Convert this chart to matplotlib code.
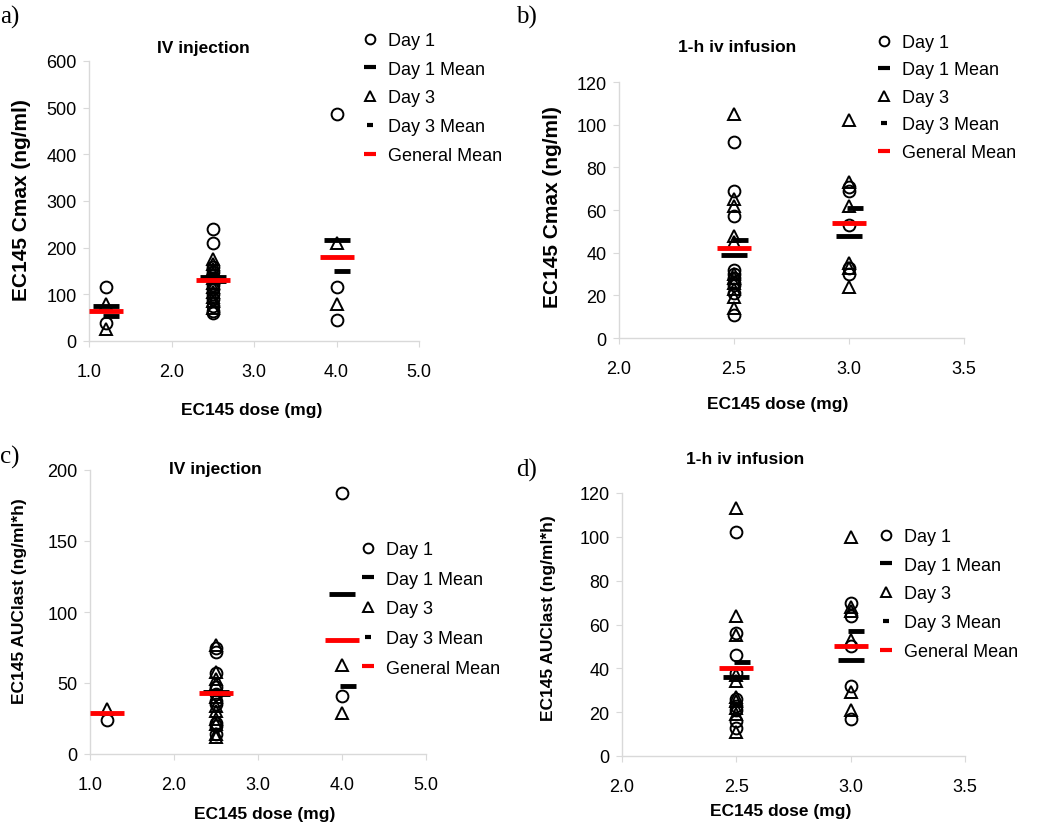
import matplotlib
matplotlib.use("Agg")
import matplotlib.pyplot as plt
import matplotlib.transforms as mtransforms
from matplotlib.lines import Line2D

plt.rcParams['font.family'] = ['Liberation Sans', 'DejaVu Sans']

W, H = 1050, 829

# ---- data (dose -> values) ----
# a) Cmax, IV injection
cmax_iv_day1 = {1.2: [115, 39],
                2.5: [241, 209, 158, 148, 135, 120, 112, 100, 90, 75, 64, 60],
                4.0: [486, 115, 45]}
cmax_iv_day3 = {1.2: [80, 25],
                2.5: [175, 165, 155, 145, 135, 125, 115, 105, 95, 85, 70],
                4.0: [210, 80]}
cmax_iv_day1_mean = {1.2: 76, 2.5: 137, 4.0: 216}
cmax_iv_day3_mean = {1.2: 53, 2.5: 128, 4.0: 150}
cmax_iv_mean = {1.2: 65, 2.5: 131, 4.0: 181}

# b) Cmax, 1-h iv infusion
cmax_inf_day1 = {2.5: [92, 69, 57, 32, 30, 28, 26, 25, 21, 11],
                 3.0: [71, 69, 53, 33, 30]}
cmax_inf_day3 = {2.5: [105, 65, 62, 48, 45, 30, 28, 26, 23, 19, 14],
                 3.0: [102, 73, 62, 35, 33, 24]}
cmax_inf_day1_mean = {2.5: 39, 3.0: 48}
cmax_inf_day3_mean = {2.5: 46, 3.0: 61}
cmax_inf_mean = {2.5: 42, 3.0: 54}

# c) AUClast, IV injection
auc_iv_day1 = {1.2: [24],
               2.5: [75, 72, 57, 47, 42, 37, 35, 22, 20, 14],
               4.0: [184, 41]}
auc_iv_day3 = {1.2: [32],
               2.5: [77, 58, 53, 49, 40, 34, 30, 25, 21, 14, 12],
               4.0: [63, 29]}
auc_iv_day1_mean = {2.5: 44, 4.0: 113}
auc_iv_day3_mean = {2.5: 42, 4.0: 48}
auc_iv_mean = {1.2: 29, 2.5: 43, 4.0: 80}

# d) AUClast, 1-h iv infusion
auc_inf_day1 = {2.5: [102, 56, 46, 38, 26, 23, 21, 16, 13],
                3.0: [70, 64, 50, 32, 17]}
auc_inf_day3 = {2.5: [113, 64, 55, 37, 34, 27, 25, 22, 19, 11],
                3.0: [100, 68, 66, 53, 29, 21]}
auc_inf_day1_mean = {2.5: 36, 3.0: 44}
auc_inf_day3_mean = {2.5: 43, 3.0: 57}
auc_inf_mean = {2.5: 40, 3.0: 50}

GRAY = '#d9d9d9'


def px_rect(left, top, right, bottom):
    return [left / W, 1 - bottom / H, (right - left) / W, (bottom - top) / H]


def flat(d):
    xs, ys = [], []
    for k, v in d.items():
        xs += [k] * len(v)
        ys += v
    return xs, ys


def panel(rect, day1, day3, m1, m3, gm, xlim, xticks, ylim, yticks,
          ylabel, ylab_xy, ylab_size, title, title_xy, letter, letter_xy,
          leg_xy, leg_space, xlab_xy):
    ax = fig.add_axes(px_rect(*rect))
    x, y = flat(day1)
    ax.plot(x, y, 'o', ms=8.5, mfc='none', mec='black', mew=1.4, zorder=3)
    ax.plot(list(m1.keys()), list(m1.values()), '_', ms=19, mew=3.5,
            color='black', zorder=4)
    x, y = flat(day3)
    ax.plot(x, y, '^', ms=9, mfc='none', mec='black', mew=1.4, zorder=3)
    # day 3 mean dash sits a little to the right in the original
    shift = ax.transData + mtransforms.ScaledTranslation(4 / 72, 0, fig.dpi_scale_trans)
    ax.plot(list(m3.keys()), list(m3.values()), '_', ms=12, mew=3.5,
            color='black', zorder=4, transform=shift)
    ax.plot(list(gm.keys()), list(gm.values()), '_', ms=25, mew=3.5,
            color='#ff0000', zorder=5)

    ax.set_xlim(*xlim)
    ax.set_ylim(*ylim)
    ax.set_xticks(xticks)
    ax.set_xticklabels([f'{t:.1f}' for t in xticks])
    ax.set_yticks(yticks)
    for s in ['top', 'right']:
        ax.spines[s].set_visible(False)
    for s in ['left', 'bottom']:
        ax.spines[s].set_color(GRAY)
        ax.spines[s].set_linewidth(1.0)
    ax.tick_params(axis='both', colors=GRAY, labelcolor='black', labelsize=13,
                   length=4)
    ax.tick_params(axis='x', pad=12)
    ax.tick_params(axis='y', pad=5)

    fig.text(xlab_xy[0] / W, 1 - xlab_xy[1] / H, 'EC145 dose (mg)', ha='center',
             va='center', fontsize=12.5, fontweight='bold')
    fig.text(ylab_xy[0] / W, 1 - ylab_xy[1] / H, ylabel, ha='center',
             va='center', rotation=90, fontsize=ylab_size, fontweight='bold')
    fig.text(title_xy[0] / W, 1 - title_xy[1] / H, title, ha='center',
             va='center', fontsize=12.5, fontweight='bold')
    fig.text(letter_xy[0] / W, 1 - letter_xy[1] / H, letter, ha='left',
             va='center', fontsize=18, family='Liberation Serif')

    handles = [
        Line2D([], [], ls='none', marker='o', ms=7, mfc='none', mec='black', mew=1.4),
        Line2D([], [], ls='none', marker='_', ms=9, mew=3, color='black'),
        Line2D([], [], ls='none', marker='^', ms=7.5, mfc='none', mec='black', mew=1.4),
        Line2D([], [], ls='none', marker='_', ms=5, mew=3, color='black'),
        Line2D([], [], ls='none', marker='_', ms=9, mew=3, color='#ff0000'),
    ]
    labels = ['Day 1', 'Day 1 Mean', 'Day 3', 'Day 3 Mean', 'General Mean']
    fig.legend(handles, labels, loc='upper left',
               bbox_to_anchor=(leg_xy[0] / W, 1 - leg_xy[1] / H),
               frameon=False, fontsize=13, borderpad=0, borderaxespad=0,
               handlelength=0.9, handletextpad=0.55, labelspacing=leg_space)
    return ax


fig = plt.figure(figsize=(W / 100, H / 100), dpi=100)

panel((89, 62, 419, 342), cmax_iv_day1, cmax_iv_day3, cmax_iv_day1_mean,
      cmax_iv_day3_mean, cmax_iv_mean, (1.0, 5.0), [1.0, 2.0, 3.0, 4.0, 5.0],
      (0, 600), range(0, 601, 100), 'EC145 Cmax (ng/ml)', (22, 200), 15,
      'IV injection', (203, 48), 'a)', (0, 17), (362, 33), 0.65, (252, 410))

panel((619, 83, 964, 339), cmax_inf_day1, cmax_inf_day3, cmax_inf_day1_mean,
      cmax_inf_day3_mean, cmax_inf_mean, (2.0, 3.5), [2.0, 2.5, 3.0, 3.5],
      (0, 120), range(0, 121, 20), 'EC145 Cmax (ng/ml)', (552, 207), 15,
      '1-h iv infusion', (737, 48), 'b)', (516, 17), (876, 35), 0.58, (778, 405))

panel((90, 471, 426, 755), auc_iv_day1, auc_iv_day3, auc_iv_day1_mean,
      auc_iv_day3_mean, auc_iv_mean, (1.0, 5.0), [1.0, 2.0, 3.0, 4.0, 5.0],
      (0, 200), range(0, 201, 50), 'EC145 AUClast (ng/ml*h)', (20, 601), 12.5,
      'IV injection', (215, 470), 'c)', (0, 457), (360, 542), 0.7, (265, 815))

panel((622, 494, 965, 757), auc_inf_day1, auc_inf_day3, auc_inf_day1_mean,
      auc_inf_day3_mean, auc_inf_mean, (2.0, 3.5), [2.0, 2.5, 3.0, 3.5],
      (0, 120), range(0, 121, 20), 'EC145 AUClast (ng/ml*h)', (548, 618), 12.5,
      '1-h iv infusion', (745, 460), 'd)', (516, 470), (878, 529), 0.65, (781, 812))

fig.savefig('out.png', dpi=100)
